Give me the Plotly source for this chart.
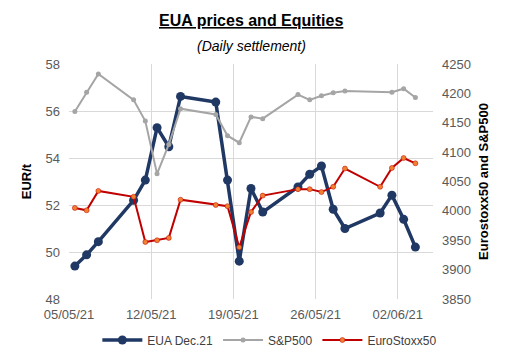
import plotly.graph_objects as go
import pandas as pd

eua_dates = ["2021-05-05","2021-05-06","2021-05-07","2021-05-10","2021-05-11","2021-05-12","2021-05-13",
             "2021-05-14","2021-05-17","2021-05-18","2021-05-19","2021-05-20","2021-05-21","2021-05-24",
             "2021-05-25","2021-05-26","2021-05-27","2021-05-28","2021-05-31","2021-06-01","2021-06-02","2021-06-03"]
eua_values = [49.40, 49.88, 50.44, 52.20, 53.06, 55.29, 54.48, 56.62, 56.38, 53.06, 49.61, 52.70, 51.70, 52.77,
              53.31, 53.66, 51.82, 51.00, 51.66, 52.42, 51.39, 50.21]

sp_dates = ["2021-05-05","2021-05-06","2021-05-07","2021-05-10","2021-05-11","2021-05-12","2021-05-13",
            "2021-05-14","2021-05-17","2021-05-18","2021-05-19","2021-05-20","2021-05-21","2021-05-24",
            "2021-05-25","2021-05-26","2021-05-27","2021-05-28","2021-06-01","2021-06-02","2021-06-03"]
sp_values = [4169, 4202, 4233, 4189, 4153, 4063, 4113, 4174, 4164, 4128, 4116, 4160, 4157, 4198,
             4189, 4196, 4201, 4204, 4202, 4208, 4193]

es_dates = eua_dates
es_values = [4005, 4001, 4034, 4024, 3947, 3950, 3954, 4019, 4010, 4008, 3938, 3998, 4026, 4037,
             4037, 4032, 4041, 4072, 4041, 4073, 4090, 4081]

tick_dates = ["2021-05-05","2021-05-12","2021-05-19","2021-05-26","2021-06-02"]
tick_labels = ["05/05/21","12/05/21","19/05/21","26/05/21","02/06/21"]

def mid(d):
    return pd.to_datetime(d) + pd.Timedelta(hours=12)

FONT = "Liberation Sans"
TICKC = "#595959"
fig = go.Figure()
fig.add_trace(go.Scatter(x=mid(eua_dates), y=eua_values, name="EUA Dec.21", mode="lines+markers",
                         line=dict(color="#203864", width=3.5), marker=dict(size=9, color="#203864")))
fig.add_trace(go.Scatter(x=mid(sp_dates), y=sp_values, name="S&P500", mode="lines+markers", yaxis="y2",
                         line=dict(color="#A5A5A5", width=2), marker=dict(size=5, color="#A5A5A5")))
fig.add_trace(go.Scatter(x=mid(es_dates), y=es_values, name="EuroStoxx50", mode="lines+markers", yaxis="y2",
                         line=dict(color="#C00000", width=2),
                         marker=dict(size=5, color="#F08030", line=dict(color="#C00000", width=0.5))))

fig.update_layout(
    width=514, height=354, margin=dict(l=69, r=81, t=64, b=55, autoexpand=False),
    paper_bgcolor="white", plot_bgcolor="white",
    font=dict(family=FONT, size=13, color=TICKC),
    showlegend=True,
    legend=dict(orientation="h", x=0.525, xanchor="center", xref="container",
                y=14 / 354, yanchor="middle", yref="container",
                font=dict(size=12, color="#404040"), itemwidth=40, tracegroupgap=0),
    xaxis=dict(type="date", range=["2021-05-05", "2021-06-05"], tickvals=pd.to_datetime(tick_dates),
               ticktext=tick_labels, showgrid=True, gridcolor="#D9D9D9", gridwidth=1, automargin=False,
               zeroline=False, showline=False, ticks="", ticklabelstandoff=6,
               tickfont=dict(size=13, color=TICKC)),
    yaxis=dict(range=[48, 58], dtick=2, showgrid=True, gridcolor="#D9D9D9", zeroline=False, automargin=False,
               title=dict(text="<b>EUR/t</b>", font=dict(size=13, color="#000000"), standoff=10),
               tickfont=dict(size=13, color=TICKC), ticks="", ticklabelstandoff=8),
    yaxis2=dict(range=[3850, 4250], dtick=50, overlaying="y", side="right", showgrid=False, automargin=False,
                zeroline=False, tickfont=dict(size=13, color=TICKC), ticks="", ticklabelstandoff=8,
                title=dict(text="<b>Eurostoxx50 and S&P500</b>", font=dict(size=13, color="#000000"), standoff=8)),
)
fig.add_annotation(text="<b><u>EUA prices and Equities</u></b>", xref="paper", yref="paper",
                   x=0.5, y=1.0, yshift=44, xanchor="center", yanchor="middle", showarrow=False,
                   font=dict(size=16, color="#000000", family=FONT))
fig.add_annotation(text="<i>(Daily settlement)</i>", xref="paper", yref="paper",
                   x=0.5, y=1.0, yshift=18, xanchor="center", yanchor="middle", showarrow=False,
                   font=dict(size=14, color="#000000", family=FONT))
fig.write_html("out.html")
